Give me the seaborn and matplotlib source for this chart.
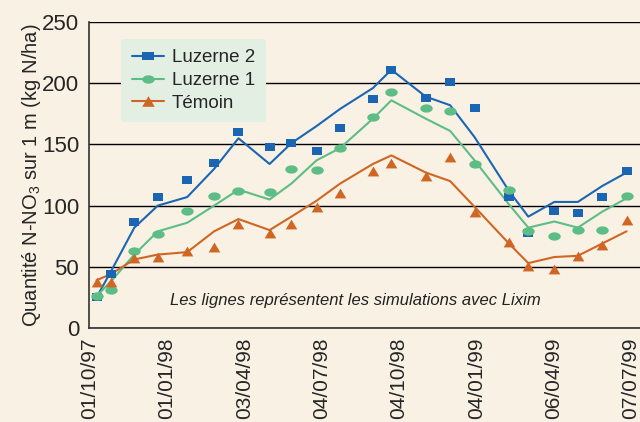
import pandas as pd
import seaborn as sns
import matplotlib.pyplot as plt
from matplotlib.lines import Line2D
from matplotlib.markers import MarkerStyle
import numpy as np

# Dates des mesures / simulations
dates = ["1997-10-09", "1997-10-26", "1997-11-23", "1997-12-21", "1998-01-25",
         "1998-02-26", "1998-03-27", "1998-05-03", "1998-05-29", "1998-06-28",
         "1998-07-26", "1998-09-03", "1998-09-25", "1998-11-05", "1998-12-04",
         "1999-01-02", "1999-02-12", "1999-03-07", "1999-04-07", "1999-05-05",
         "1999-06-03", "1999-07-02"]

# Mesures (points)
luzerne2_mes = [25, 44, 87, 107, 121, 135, 160, 148, 151, 145, 163,
                187, 211, 188, 201, 180, 107, 78, 96, 94, 107, 128]
luzerne1_mes = [26, 31, 63, 77, 96, 108, 112, 111, 130, 129, 147,
                172, 193, 180, 177, 134, 113, 79, 75, 80, 80, 108]
temoin_mes = [38, 38, 57, 58, 63, 66, 85, 78, 85, 99, 110,
              128, 135, 124, 140, 95, 70, 51, 48, 59, 68, 88]

# Simulations Lixim (lignes)
luzerne2_sim = [25, 46, 82, 100, 107, 130, 155, 134, 151, 165, 179,
                196, 211, 189, 182, 156, 112, 91, 103, 103, 116, 127]
luzerne1_sim = [26, 38, 60, 79, 86, 100, 113, 105, 118, 137, 147,
                171, 186, 171, 161, 137, 101, 82, 87, 82, 95, 106]
temoin_sim = [39, 44, 56, 60, 62, 79, 89, 80, 91, 104, 118,
              134, 141, 127, 120, 99, 69, 53, 58, 59, 69, 79]

series = ["Luzerne 2", "Luzerne 1", "Témoin"]
tick_labels = ["01/10/97", "01/01/98", "03/04/98", "04/07/98",
               "04/10/98", "04/01/99", "06/04/99", "07/07/99"]
y_ticks = [0, 50, 100, 150, 200, 250]

couleurs = {"Luzerne 2": "#1a66b2", "Luzerne 1": "#5dbd86", "Témoin": "#cf6624"}

# formes des marqueurs
t = np.linspace(0, 2 * np.pi, 40)
rect = [(-1.45, -1), (1.45, -1), (1.45, 1), (-1.45, 1), (-1.45, -1)]
ellipse = list(zip(1.5 * np.cos(t), np.sin(t)))
tri = [(0, 0.85), (-1, -0.85), (1, -0.85), (0, 0.85)]
marqueurs = {"Luzerne 2": (MarkerStyle(rect), 55),
             "Luzerne 1": (MarkerStyle(ellipse), 80),
             "Témoin": (MarkerStyle(tri), 70)}

dt = pd.to_datetime(dates)
df_mes = pd.DataFrame({"date": np.tile(dt, 3),
                       "serie": np.repeat(series, len(dates)),
                       "N": luzerne2_mes + luzerne1_mes + temoin_mes})
df_sim = pd.DataFrame({"date": np.tile(dt, 3),
                       "serie": np.repeat(series, len(dates)),
                       "N": luzerne2_sim + luzerne1_sim + temoin_sim})

sns.set_style("white")
plt.rcParams["font.family"] = ["Liberation Sans", "DejaVu Sans"]
plt.rcParams["mathtext.fontset"] = "custom"
plt.rcParams["mathtext.rm"] = "Liberation Sans"
plt.rcParams["mathtext.it"] = "Liberation Sans:italic"

fond = "#f9f1e4"
fig = plt.figure(figsize=(6.4, 4.22), dpi=100, facecolor=fond)
ax = fig.add_axes([0.139, 0.2227, 0.861, 0.7252], facecolor=fond)

sns.lineplot(data=df_sim, x="date", y="N", hue="serie", palette=couleurs,
             linewidth=1.5, legend=False, ax=ax, zorder=3)
for s in series:
    m, taille = marqueurs[s]
    sns.scatterplot(data=df_mes[df_mes["serie"] == s], x="date", y="N",
                    color=couleurs[s], marker=m, s=taille, linewidth=0,
                    legend=False, ax=ax, zorder=4)

# axes
x0 = pd.Timestamp("1997-10-01")
ax.set_xlim(x0 - pd.Timedelta(days=1), x0 + pd.Timedelta(days=655))
ax.set_ylim(0, 250)
majeurs = pd.to_datetime(tick_labels, format="%d/%m/%y")
mineurs = majeurs[:-1] + (majeurs[1:] - majeurs[:-1]) / 2
ax.set_xticks(majeurs)
ax.set_xticks(mineurs, minor=True)
ax.set_xticklabels(tick_labels, rotation=90, fontsize=15)
ax.set_yticks(y_ticks)
ax.set_yticks([25, 75, 125, 175, 225], minor=True)
ax.set_yticklabels([str(v) for v in y_ticks], fontsize=16)
ax.tick_params(axis="both", which="major", direction="out", length=6,
               width=1, color="#333333", pad=1)
ax.tick_params(axis="both", which="minor", direction="out", length=4,
               width=1, color="#333333")
ax.tick_params(axis="x", which="major", pad=1)

ax.grid(axis="y", color="black", linewidth=1)
ax.set_axisbelow(True)
for side in ["top", "right"]:
    ax.spines[side].set_visible(False)
for side in ["left", "bottom"]:
    ax.spines[side].set_color("#333333")
    ax.spines[side].set_linewidth(1.2)

ax.set_xlabel("")
ax.set_ylabel("Quantité N-NO$_3$ sur 1 m (kg N/ha)", fontsize=14.5, labelpad=-1)

ax.text(0.483, 0.09, "Les lignes représentent les simulations avec Lixim",
        transform=ax.transAxes, ha="center", va="center", fontsize=12,
        style="italic", color="#222222")

# légende
handles = [Line2D([], [], color=couleurs[s], linewidth=1.5,
                  marker=marqueurs[s][0], markersize=9, markeredgewidth=0)
           for s in series]
leg = ax.legend(handles, series, loc="upper left",
                bbox_to_anchor=(0.042, 0.975), fontsize=13.5, frameon=True,
                handlelength=1.7, handletextpad=0.45, labelspacing=0.3,
                borderpad=0.55, fancybox=True)
leg.get_frame().set_facecolor("#e4efe4")
leg.get_frame().set_edgecolor("none")
leg.get_frame().set_alpha(1)
leg.set_zorder(2)

fig.savefig("out.png", dpi=100, facecolor=fond)
